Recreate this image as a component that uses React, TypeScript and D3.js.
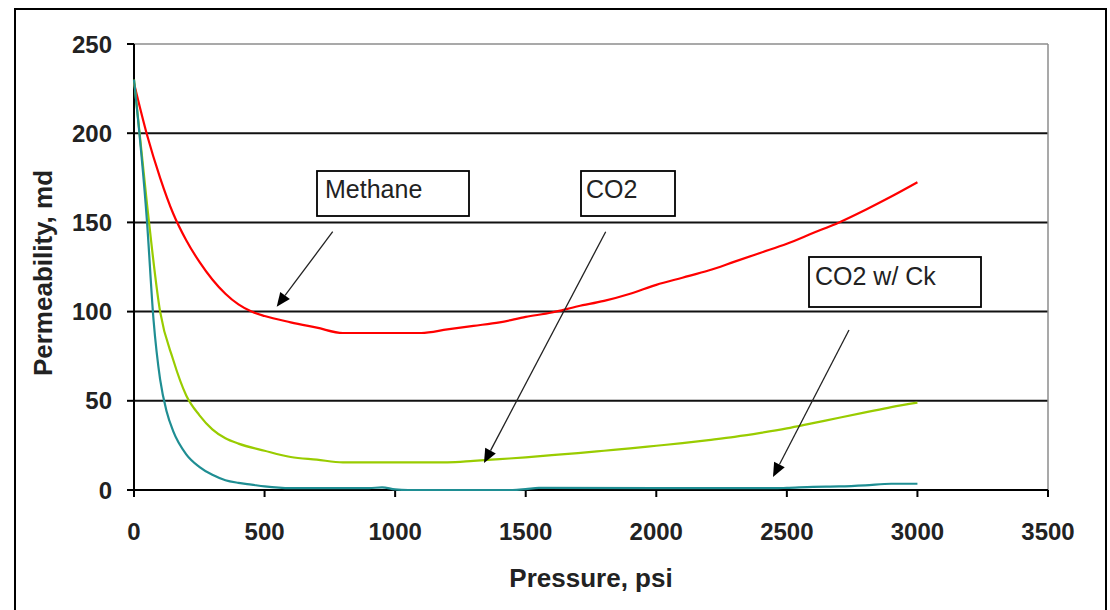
import React from "react";
import * as d3 from "d3";

const xTicks = [0, 500, 1000, 1500, 2000, 2500, 3000, 3500];
const yTicks = [0, 50, 100, 150, 200, 250];

const methaneP = [0, 50, 100, 150, 200, 250, 300, 350, 400, 450, 500, 600, 700, 800, 900, 1000, 1100, 1200, 1300, 1400, 1500, 1600, 1700, 1800, 1900, 2000, 2100, 2200, 2300, 2400, 2500, 2600, 2700, 2800, 2900, 3000];
const methaneK = [228, 199, 175, 155, 140, 128, 118, 110, 104, 100, 97.5, 94, 91, 88, 88, 88, 88, 90, 92, 94, 97, 99.5, 103, 106, 110, 115, 119, 123, 128, 133, 138, 144, 150, 157, 164.5, 172.5];

const co2P = [0, 50, 100, 150, 200, 250, 300, 350, 400, 500, 600, 700, 800, 900, 1000, 1100, 1200, 1300, 1400, 1500, 1600, 1700, 1800, 1900, 2000, 2100, 2200, 2300, 2400, 2500, 2600, 2700, 2800, 2900, 3000];
const co2K = [230, 160, 100, 73, 53, 42, 34, 29, 26, 22, 18.5, 17, 15.5, 15.5, 15.5, 15.5, 15.5, 16.3, 17.3, 18.3, 19.5, 20.7, 22, 23.3, 24.8, 26.3, 28, 29.8, 32, 34.5, 37.5, 40.5, 43.5, 46.5, 49];

const ckP = [0, 50, 75, 100, 125, 150, 200, 250, 300, 350, 400, 450, 500, 600, 900, 950, 1000, 1050, 1450, 1500, 1550, 2450, 2500, 2600, 2700, 2800, 2900, 3000];
const ckK = [230, 150, 95, 62, 44, 33, 20, 13, 8.5, 5.5, 4, 3, 2, 1, 1, 1.5, 0.3, 0, 0, 0.5, 1.2, 1, 1.2, 1.8, 2, 2.6, 3.5, 3.5];

const seriesNames = ["Methane", "CO2", "CO2 w/ Ck"];
const seriesColors = ["#ff0000", "#99cc00", "#1f8e93"];

const W = 1110, H = 610;
const X0 = 134, X1 = 1048, Y0 = 490, Y1 = 44;

export default function App() {
  const x = d3.scaleLinear().domain([0, 3500]).range([X0, X1]);
  const y = d3.scaleLinear().domain([0, 250]).range([Y0, Y1]);
  const line = d3
    .line<[number, number]>()
    .x((d) => x(d[0]))
    .y((d) => y(d[1]))
    .curve(d3.curveMonotoneX);
  const series = [
    d3.zip(methaneP, methaneK) as [number, number][],
    d3.zip(co2P, co2K) as [number, number][],
    d3.zip(ckP, ckK) as [number, number][],
  ];

  const boxes = [
    { x: 317, y: 171, w: 152, h: 45, tx: 325, ty: 198, text: seriesNames[0] },
    { x: 581, y: 171, w: 94, h: 45, tx: 586, ty: 198, text: seriesNames[1] },
    { x: 809, y: 257, w: 172, h: 50, tx: 815, ty: 285, text: seriesNames[2] },
  ];
  const arrows = [
    [332.7, 231.7, 276.7, 306.7],
    [605.7, 231.7, 484, 463],
    [849, 330, 773, 477],
  ];

  const font = "Liberation Sans, Arial, sans-serif";

  return (
    <svg
      width={W}
      height={H}
      style={{ position: "absolute", left: 0, top: 0, background: "#fff" }}
      fontFamily={font}
    >
      <rect x={0} y={0} width={W} height={H} fill="#fff" />
      <rect x={15} y={9} width={1091} height={620} fill="none" stroke="#000" strokeWidth={2} />
      {yTicks.map((t) => (
        <line
          key={"g" + t}
          x1={X0}
          x2={X1}
          y1={y(t)}
          y2={y(t)}
          stroke={t === 250 ? "#8c8c8c" : "#111"}
          strokeWidth={t === 250 ? 1.5 : 2}
        />
      ))}
      <line x1={X1} x2={X1} y1={Y1} y2={Y0} stroke="#8c8c8c" strokeWidth={1.5} />
      <line x1={X0} x2={X0} y1={Y1} y2={Y0 + 7} stroke="#000" strokeWidth={2} />
      <line x1={X0 - 7} x2={X1} y1={Y0} y2={Y0} stroke="#000" strokeWidth={2} />
      {yTicks.map((t) => (
        <g key={"yt" + t}>
          <line x1={X0 - 7} x2={X0} y1={y(t)} y2={y(t)} stroke="#000" strokeWidth={2} />
          <text x={112} y={y(t) + 8.5} textAnchor="end" fontSize={24} fontWeight="bold" fill="#222">
            {t}
          </text>
        </g>
      ))}
      {xTicks.map((t) => (
        <g key={"xt" + t}>
          <line x1={x(t)} x2={x(t)} y1={Y0} y2={Y0 + 7} stroke="#000" strokeWidth={2} />
          <text x={x(t)} y={540} textAnchor="middle" fontSize={24} fontWeight="bold" fill="#222">
            {t}
          </text>
        </g>
      ))}
      <text x={(X0 + X1) / 2} y={587} textAnchor="middle" fontSize={26} fontWeight="bold" fill="#222">
        Pressure, psi
      </text>
      <text
        transform={`translate(52, ${(Y0 + Y1) / 2 + 6}) rotate(-90)`}
        textAnchor="middle"
        fontSize={26}
        fontWeight="bold"
        fill="#222"
      >
        Permeability, md
      </text>
      {series.map((s, i) => (
        <path key={"s" + i} d={line(s) || ""} fill="none" stroke={seriesColors[i]} strokeWidth={2.2} strokeLinejoin="round" />
      ))}
      {boxes.map((b, i) => (
        <g key={"b" + i}>
          <rect x={b.x} y={b.y} width={b.w} height={b.h} fill="#fff" stroke="#000" strokeWidth={1.8} />
          <text x={b.tx} y={b.ty} fontSize={25} fill="#222">
            {b.text}
          </text>
        </g>
      ))}
      {arrows.map((a, i) => {
        const [x1, y1, x2, y2] = a;
        const ang = Math.atan2(y2 - y1, x2 - x1);
        const L = 14, Wd = 6;
        const bx = x2 - L * Math.cos(ang), by = y2 - L * Math.sin(ang);
        const px = -Math.sin(ang) * Wd, py = Math.cos(ang) * Wd;
        return (
          <g key={"a" + i}>
            <line x1={x1} y1={y1} x2={bx} y2={by} stroke="#222" strokeWidth={1.3} />
            <path d={`M${x2},${y2}L${bx + px},${by + py}L${bx - px},${by - py}Z`} fill="#000" />
          </g>
        );
      })}
    </svg>
  );
}
